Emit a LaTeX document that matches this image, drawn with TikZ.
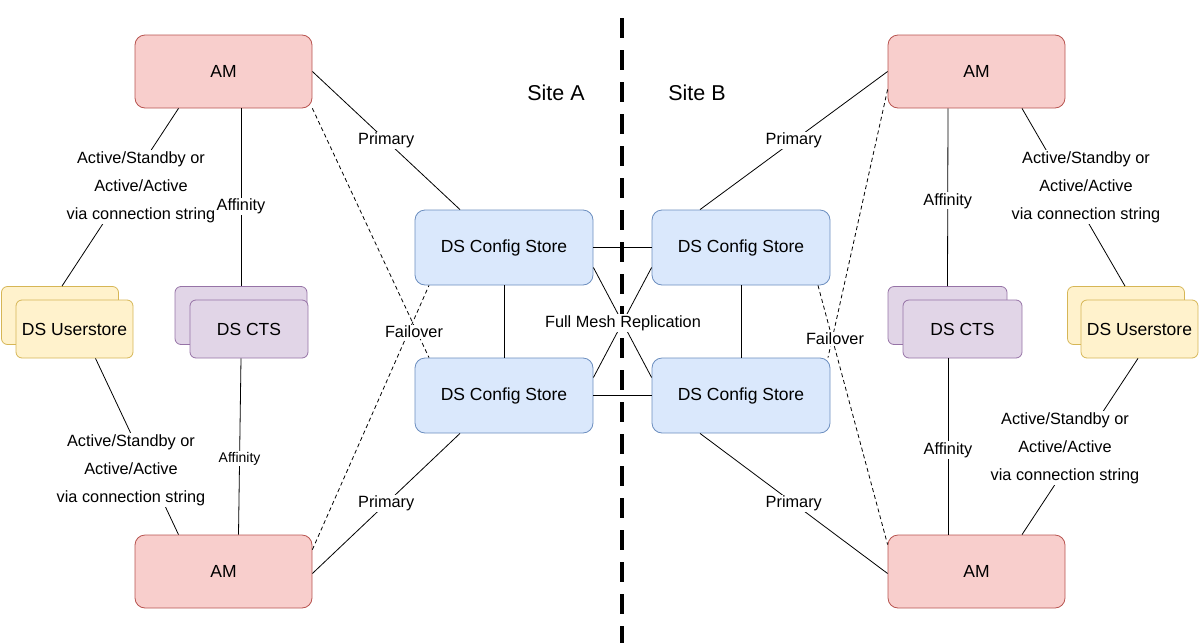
\documentclass[tikz,border=0pt]{standalone}
\usepackage{fontspec}
\setmainfont{Liberation Sans}
\usetikzlibrary{calc}
\begin{document}
\begin{tikzpicture}[x=1pt,y=-1pt,
  box/.style={draw,rounded corners=10pt,line width=0.8pt,inner sep=0pt,font=\fontsize{17.5}{20}\selectfont},
  am/.style={box,fill={rgb,255:red,248;green,206;blue,204},draw={rgb,255:red,184;green,84;blue,80},minimum width=177pt,minimum height=73pt},
  ds/.style={box,fill={rgb,255:red,218;green,232;blue,252},draw={rgb,255:red,108;green,142;blue,191},minimum width=178pt,minimum height=75pt},
  us/.style={box,rounded corners=6pt,fill={rgb,255:red,255;green,242;blue,204},draw={rgb,255:red,214;green,182;blue,86},minimum width=117pt,minimum height=58pt},
  cts/.style={box,rounded corners=6pt,fill={rgb,255:red,225;green,213;blue,231},draw={rgb,255:red,150;green,115;blue,166},minimum height=58pt},
  ln/.style={line width=0.8pt},
  dl/.style={ln,dash pattern=on 4pt off 3pt},
  lbl/.style={fill=white,inner sep=1pt,font=\fontsize{16.3}{28}\selectfont,align=center},
  slbl/.style={fill=white,inner sep=1pt,font=\fontsize{14}{15}\selectfont}]
\useasboundingbox (0,0) rectangle (1200,643);
\draw[line width=4pt,dash pattern=on 20pt off 12pt] (622,18) -- (622,643);
\node[font=\fontsize{21.5}{24}\selectfont] (sa) at (556,93) {Site A};
\node[font=\fontsize{21.5}{24}\selectfont] (sb) at (697,93) {Site B};
\node[am] (amtl) at (223.5,71.5) {AM};
\node[am] (ambl) at (223.5,571.5) {AM};
\node[ds] (cTL) at (504,247.5) {DS Config Store};
\node[ds] (cBL) at (504,395.5) {DS Config Store};
\node[ds] (cTR) at (741,247.5) {DS Config Store};
\node[ds] (cBR) at (741,395.5) {DS Config Store};
\node[us] (usLb) at (60,315.5) {};
\node[us] (usL) at (74.5,329) {DS Userstore};
\node[cts,minimum width=132pt] (ctsLb) at (241,315.5) {};
\node[cts,minimum width=118pt] (ctsL) at (249,329) {DS CTS};
\node[am] (amtr) at (976.5,71.5) {AM};
\node[am] (ambr) at (976.5,571.5) {AM};
\node[us] (usRb) at (1126,315.5) {};
\node[us] (usR) at (1139.5,329) {DS Userstore};
\node[cts,minimum width=119pt] (ctsRb) at (947.5,315.5) {};
\node[cts,minimum width=119pt] (ctsR) at (962.5,329) {DS CTS};
% left connectors
\draw[ln] (amtl.east) -- ([xshift=-44pt]cTL.north) node[lbl,pos=0.5] {Primary};
\draw[dl] (amtl.south east) -- ([xshift=-75pt]cBL.north);
\draw[dl] ([yshift=-15pt]ambl.north east) -- ([xshift=-75pt]cTL.south);
\node[lbl] (fl) at (414,332) {Failover};
\draw[ln] ([xshift=-45pt]amtl.south) -- ([xshift=2pt]usLb.north);
\node[lbl] (l1) at (141,187) {Active/Standby or\\Active/Active\\via connection string};
\draw[ln] ([xshift=17.5pt]amtl.south) -- (ctsLb.north) node[lbl,pos=0.55] {Affinity};
\draw[ln] ([xshift=-8pt]ctsL.south) -- ([xshift=15pt]ambl.north) node[slbl,pos=0.57] {Affinity};
\draw[ln] ([xshift=21pt]usL.south) -- ([xshift=-45pt]ambl.north);
\node[lbl] (l2) at (131,470) {Active/Standby or\\Active/Active\\via connection string};
\draw[ln] ([xshift=-44pt]cBL.south) -- ([yshift=-2pt]ambl.east) node[lbl,pos=0.5] {Primary};
% mesh
\draw[ln] (cTL.east) -- (cTR.west);
\draw[ln] (cBL.east) -- (cBR.west);
\draw[ln] (cTL.south) -- (cBL.north);
\draw[ln] (cTR.south) -- (cBR.north);
\draw[ln] ([yshift=-20pt]cTL.east) -- ([yshift=18pt]cBR.west);
\draw[ln] ([yshift=18pt]cBL.east) -- ([yshift=-20pt]cTR.west);
\node[lbl] (fm) at (623,323) {Full Mesh Replication};
% right connectors
\draw[ln] (amtr.west) -- ([xshift=-41pt]cTR.north) node[lbl,pos=0.5] {Primary};
\draw[dl] ([yshift=-18pt]amtr.west) -- ([xshift=87pt]cBR.north);
\draw[dl] ([xshift=77pt]cTR.south) -- ([yshift=-10pt]ambr.north west);
\node[lbl] (fr) at (835,339) {Failover};
\draw[ln] ([xshift=45.5pt]amtr.south) -- ([xshift=-1pt]usRb.north);
\node[lbl] (r1) at (1086,187) {Active/Standby or\\Active/Active\\via connection string};
\draw[ln] ([xshift=-28.5pt]amtr.south) -- (ctsRb.north) node[lbl,pos=0.52] {Affinity};
\draw[ln] ([xshift=-14.5pt]ctsR.south) -- ([xshift=-28.5pt]ambr.north) node[lbl,pos=0.52] {Affinity};
\draw[ln] ([xshift=-1.5pt]usR.south) -- ([xshift=45.5pt]ambr.north);
\node[lbl] (r2) at (1065,448) {Active/Standby or\\Active/Active\\via connection string};
\draw[ln] ([xshift=-41pt]cBR.south) -- ([yshift=-2pt]ambr.west) node[lbl,pos=0.5] {Primary};
\end{tikzpicture}
\end{document}
